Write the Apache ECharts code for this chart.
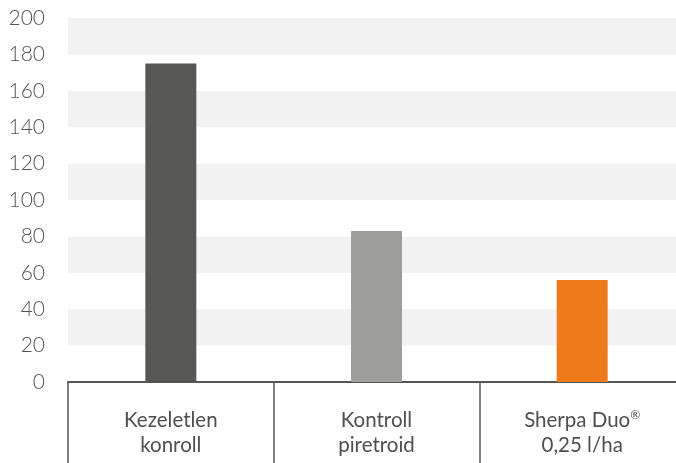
<!DOCTYPE html>
<html>
<head>
<meta charset="utf-8">
<script src="https://cdn.jsdelivr.net/npm/echarts@6/dist/echarts.min.js"></script>
<style>html,body{margin:0;padding:0;background:#fff;overflow:hidden}#c{width:685px;height:463px}</style>
</head>
<body>
<div id="c"></div>
<script>
const categories = ['Kezeletlen\nkonroll', 'Kontroll\npiretroid', 'Sherpa Duo{sup|®}\n0,25 l/ha'];
const values = [175, 83, 56];
const barColors = ['#575756', '#9d9d9c', '#ef7a1b'];
const yTicks = { min: 0, max: 200, interval: 20 };

const chart = echarts.init(document.getElementById('c'));
const font = "Lato, 'Noto Sans', sans-serif";
chart.setOption({
  animation: false,
  grid: { left: 68, top: 18, right: 0, bottom: 81 },
  xAxis: [
    {
      type: 'category',
      data: categories,
      position: 'bottom',
      offset: 10,
      axisLine: { show: false },
      axisTick: { show: true, interval: 0, length: 85, lineStyle: { color: '#555', width: 1.5 } },
      axisLabel: {
        interval: 0,
        color: '#4f4f4f', fontSize: 20.5, fontFamily: font, lineHeight: 25, margin: 16,
        rich: { sup: { fontSize: 12, color: '#4f4f4f', fontFamily: font, padding: [0, 0, 10, 0] } }
      }
    },
    {
      type: 'category',
      data: categories,
      position: 'bottom',
      axisLine: { show: true, lineStyle: { color: '#555', width: 2 } },
      axisTick: { show: false },
      axisLabel: { show: false }
    }
  ],
  yAxis: {
    type: 'value',
    min: yTicks.min, max: yTicks.max, interval: yTicks.interval,
    axisLine: { show: false }, axisTick: { show: false },
    splitLine: { show: false },
    splitArea: { show: true, areaStyle: { color: ['#ffffff', '#f2f2f2'] } },
    axisLabel: { color: '#555', fontSize: 21, fontFamily: font, fontWeight: 300, margin: 23 }
  },
  series: [{
    type: 'bar',
    xAxisIndex: 0,
    barWidth: 51,
    data: values.map((v, i) => ({ value: v, itemStyle: { color: barColors[i] } }))
  }]
});
</script>
</body>
</html>
